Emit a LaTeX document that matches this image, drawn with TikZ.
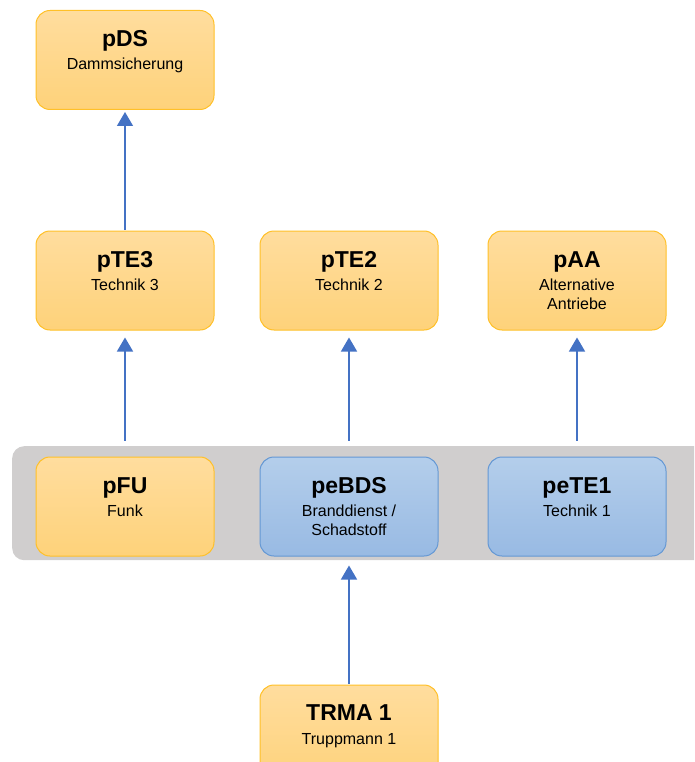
\documentclass[tikz,border=0pt]{standalone}
\usepackage{fontspec}
\setmainfont{Liberation Sans}
\usetikzlibrary{arrows.meta}
\definecolor{ofillT}{RGB}{255,221,158}
\definecolor{ofillB}{RGB}{254,210,122}
\definecolor{odraw}{RGB}{255,192,40}
\definecolor{bfillT}{RGB}{180,206,235}
\definecolor{bfillB}{RGB}{152,186,227}
\definecolor{bdraw}{RGB}{100,152,212}
\definecolor{band}{RGB}{208,206,206}
\definecolor{arr}{RGB}{68,114,196}
\tikzset{
  obox/.style={draw=odraw, line width=1pt, rounded corners=14pt, top color=ofillT, bottom color=ofillB, minimum width=178pt, minimum height=99pt, inner sep=0pt},
  bbox/.style={draw=bdraw, line width=1pt, rounded corners=14pt, top color=bfillT, bottom color=bfillB, minimum width=178pt, minimum height=99pt, inner sep=0pt},
  ttl/.style={anchor=base, font=\bfseries\fontsize{23}{25}\selectfont, inner sep=0pt},
  sub/.style={anchor=base, font=\fontsize{16}{20}\selectfont, inner sep=0pt},
  conn/.style={draw=arr, line width=1.4pt, -{Triangle[width=16pt,length=14pt]}}
}
\begin{document}
\begin{tikzpicture}[x=1pt,y=-1pt]
\useasboundingbox (0,0) rectangle (694,762);
\clip (0,0) rectangle (694,762);
\node[fill=band, rounded corners=12pt, minimum width=720pt, minimum height=114pt, inner sep=0pt, anchor=north west] (grp) at (12,446) {};
\node[obox] (pDS) at (125,60) {};
\node[obox] (pTE3) at (125,280.5) {};
\node[obox] (pTE2) at (349,280.5) {};
\node[obox] (pAA) at (577,280.5) {};
\node[obox] (pFU) at (125,506.5) {};
\node[bbox] (peBDS) at (349,506.5) {};
\node[bbox] (peTE1) at (577,506.5) {};
\node[obox] (TRMA) at (349,734.5) {};
% texts
\node[ttl] (tpDS) at ([yshift=-37pt]pDS.north) {pDS};
\node[sub] (spDS) at ([yshift=-60pt]pDS.north) {Dammsicherung};
\node[ttl] (tpTE3) at ([yshift=-37pt]pTE3.north) {pTE3};
\node[sub] (spTE3) at ([yshift=-60pt]pTE3.north) {Technik 3};
\node[ttl] (tpTE2) at ([yshift=-37pt]pTE2.north) {pTE2};
\node[sub] (spTE2) at ([yshift=-60pt]pTE2.north) {Technik 2};
\node[ttl] (tpAA) at ([yshift=-37pt]pAA.north) {pAA};
\node[sub] (spAA) at ([yshift=-60pt]pAA.north) {Alternative};
\node[sub] (spAAb) at ([yshift=-79pt]pAA.north) {Antriebe};
\node[ttl] (tpFU) at ([yshift=-37pt]pFU.north) {pFU};
\node[sub] (spFU) at ([yshift=-60pt]pFU.north) {Funk};
\node[ttl] (tpeBDS) at ([yshift=-37pt]peBDS.north) {peBDS};
\node[sub] (speBDS) at ([yshift=-60pt]peBDS.north) {Branddienst /};
\node[sub] (speBDSb) at ([yshift=-79pt]peBDS.north) {Schadstoff};
\node[ttl] (tpeTE1) at ([yshift=-37pt]peTE1.north) {peTE1};
\node[sub] (speTE1) at ([yshift=-60pt]peTE1.north) {Technik 1};
\node[ttl] (tTRMA) at ([yshift=-36pt]TRMA.north) {TRMA 1};
\node[sub] (sTRMA) at ([yshift=-60pt]TRMA.north) {Truppmann 1};
% connectors
\draw[conn, shorten <=1pt, shorten >=2pt] (pTE3.north) -- (pDS.south);
\draw[conn, shorten <=16pt, shorten >=7pt] (pFU.north) -- (pTE3.south);
\draw[conn, shorten <=16pt, shorten >=7pt] (peBDS.north) -- (pTE2.south);
\draw[conn, shorten <=16pt, shorten >=7pt] (peTE1.north) -- (pAA.south);
\draw[conn, shorten <=1pt, shorten >=9pt] (TRMA.north) -- (peBDS.south);
\end{tikzpicture}
\end{document}
